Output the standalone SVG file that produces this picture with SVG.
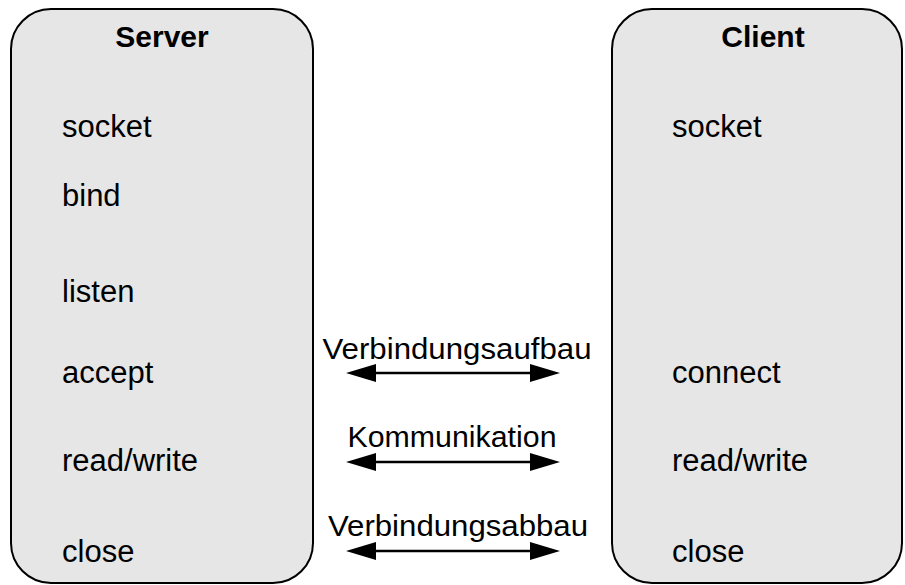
<svg xmlns="http://www.w3.org/2000/svg" width="905" height="585" viewBox="0 0 905 585">
  <style>
    .box { fill: #e6e6e6; stroke: #000; stroke-width: 2; }
    .title { font-family: "Liberation Sans", Arial, sans-serif; font-size: 30px; font-weight: bold; fill: #000; text-anchor: middle; }
    .lbl { font-family: "Liberation Sans", Arial, sans-serif; font-size: 31px; fill: #000; }
    .mid { font-family: "Liberation Sans", Arial, sans-serif; font-size: 30px; fill: #000; text-anchor: middle; }
    .conn { stroke: #000; stroke-width: 2.5; fill: none; marker-start: url(#ah); marker-end: url(#ah); }
  </style>
  <defs>
    <marker id="ah" markerUnits="userSpaceOnUse" markerWidth="30" markerHeight="18" refX="15" refY="9" orient="auto-start-reverse" viewBox="0 0 30 18">
      <path d="M0,0 L30,9 L0,18 Z" fill="#000"/>
    </marker>
  </defs>
  <g id="server">
    <rect class="box" x="11" y="9" width="302" height="574" rx="40" ry="40"/>
    <text class="title" x="162" y="47">Server</text>
    <text class="lbl" x="62" y="137">socket</text>
    <text class="lbl" x="62" y="206">bind</text>
    <text class="lbl" x="62" y="302">listen</text>
    <text class="lbl" x="62" y="383">accept</text>
    <text class="lbl" x="62" y="471">read/write</text>
    <text class="lbl" x="62" y="562">close</text>
  </g>
  <g id="client">
    <rect class="box" x="612" y="9" width="290" height="574" rx="40" ry="40"/>
    <text class="title" x="763" y="47">Client</text>
    <text class="lbl" x="672" y="137">socket</text>
    <text class="lbl" x="672" y="383">connect</text>
    <text class="lbl" x="672" y="471">read/write</text>
    <text class="lbl" x="672" y="562">close</text>
  </g>
  <g id="connectors">
    <line class="conn" x1="361" y1="373" x2="545" y2="373"/>
    <line class="conn" x1="361" y1="462" x2="545" y2="462"/>
    <line class="conn" x1="361" y1="551" x2="545" y2="551"/>
    <text class="mid" x="457" y="359" textLength="269" lengthAdjust="spacingAndGlyphs">Verbindungsaufbau</text>
    <text class="mid" x="452" y="447" textLength="209" lengthAdjust="spacingAndGlyphs">Kommunikation</text>
    <text class="mid" x="458" y="536" textLength="260" lengthAdjust="spacingAndGlyphs">Verbindungsabbau</text>
  </g>
</svg>
